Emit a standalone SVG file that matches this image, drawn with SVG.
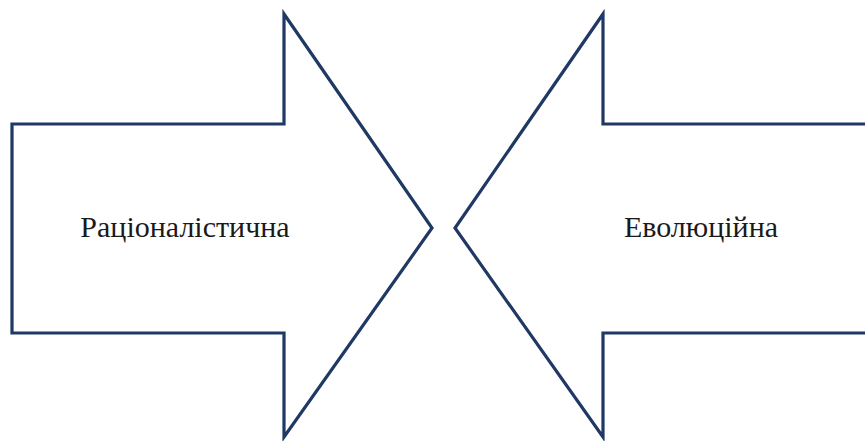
<svg xmlns="http://www.w3.org/2000/svg" width="865" height="441" viewBox="0 0 865 441">
<style>
.arrow{fill:#ffffff;stroke:#1f3864;stroke-width:3.2;stroke-linejoin:miter}
.lbl{font-family:"Liberation Serif","Times New Roman",serif;font-size:30px;fill:#1a1a1a;text-anchor:middle}
</style>
<rect width="865" height="441" fill="#ffffff"/>
<g id="rational">
<polygon class="arrow" points="12,124 284,124 284,14 432,228 284,437 284,333 12,333"/>
<text class="lbl" x="185" y="237">Раціоналістична</text>
</g>
<g id="evolution">
<polygon class="arrow" points="868,124 603,124 603,14 455,228 603,437 603,333 868,333"/>
<text class="lbl" x="701" y="237">Еволюційна</text>
</g>
<g id="connectors"></g>
</svg>
